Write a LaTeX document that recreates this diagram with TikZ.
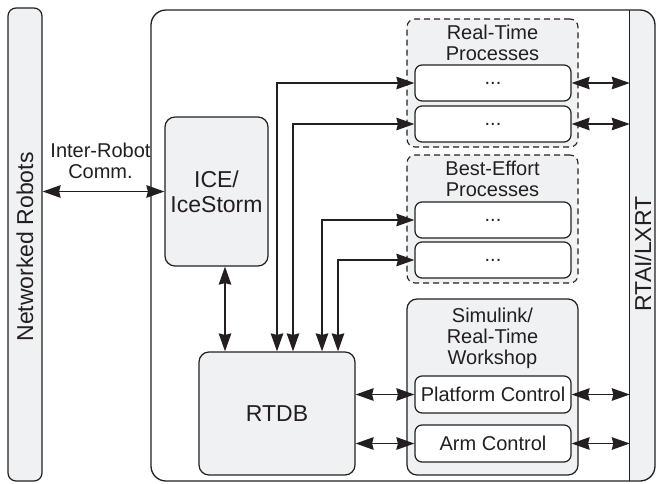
\documentclass[tikz,border=0pt]{standalone}
\usepackage{fontspec}
\setmainfont{Liberation Sans}
\usetikzlibrary{arrows.meta,calc}
\definecolor{boxfill}{RGB}{240,241,243}
\definecolor{ink}{RGB}{35,31,32}
\tikzset{
  headtip/.style={>={Stealth[length=18pt,width=12.5pt,inset=1.5pt]}},
  link/.style={draw=ink, line width=1.6pt, headtip, <->},
}
\begin{document}
\begin{tikzpicture}[x=1pt,y=-1pt,
  every node/.style={font=\fontsize{20}{21}\selectfont, text=ink},
  bigtext/.style={font=\fontsize{23}{25}\selectfont},
  panel/.style={draw=ink, line width=1.2pt, fill=boxfill, rounded corners=#1, inner sep=0pt},
  panel/.default=8pt,
  group/.style={draw=ink, line width=1.1pt, dash pattern=on 6pt off 4pt, fill=boxfill,
    rounded corners=8pt, inner sep=0pt, minimum width=171pt},
  task/.style={draw=ink, line width=1.2pt, fill=white, rounded corners=7pt,
    minimum width=156pt, minimum height=36pt, inner sep=0pt},
]
\useasboundingbox (0,0) rectangle (657,483);

% networked robots column
\node[panel=8pt, minimum width=34pt, minimum height=473pt] (net) at (25,244.5) {};
\node[rotate=90, bigtext] (netlabel) at (25,247) {Networked Robots};

% robot system frame with the RTAI/LXRT strip on its right
\begin{scope}
  \clip[rounded corners=15pt] (151,10) rectangle (655,481);
  \fill[white] (151,10) rectangle (630,481);
  \fill[boxfill] (630,10) rectangle (655,481);
\end{scope}
\node[draw=ink, line width=1.3pt, rounded corners=15pt, minimum width=504pt,
      minimum height=471pt, inner sep=0pt] (sys) at (403,245.5) {};
\node[minimum width=25pt, minimum height=471pt, inner sep=0pt] (rtai) at (642.5,245.5) {};
\draw[ink, line width=1.3pt] (rtai.north west) -- (rtai.south west);
\node[rotate=90, bigtext] (rtailabel) at (643,254) {RTAI/LXRT};

% middleware and database
\node[panel=10pt, minimum width=103pt, minimum height=149pt, align=center, bigtext]
  (ice) at (216.5,191.5) {ICE/\\IceStorm};
\node[panel=10pt, minimum width=156pt, minimum height=123pt, bigtext]
  (rtdb) at (277,413.5) {RTDB};

% real-time processes
\node[group, minimum height=128pt] (rtgrp) at (492.5,83) {};
\node[anchor=north, align=center, inner sep=0pt] (rtlabel)
  at ([yshift=-6pt]rtgrp.north) {Real-Time\\Processes};
\node[task] (rt1) at (493,83) {...};
\node[task] (rt2) at (493,124) {...};

% best-effort processes
\node[group, minimum height=128pt] (begrp) at (492.5,219) {};
\node[anchor=north, align=center, inner sep=0pt] (belabel)
  at ([yshift=-6pt]begrp.north) {Best-Effort\\Processes};
\node[task] (be1) at (493,220) {...};
\node[task] (be2) at (493,260) {...};

% simulink generated controllers
\node[panel=10pt, minimum width=171pt, minimum height=176pt] (sim) at (492.5,387) {};
\node[anchor=north, align=center, inner sep=0pt] (simlabel)
  at ([yshift=-9pt]sim.north) {Simulink/\\Real-Time\\Workshop};
\node[task, minimum height=37pt] (pc) at (493,394.5) {Platform Control};
\node[task, minimum height=37pt] (ac) at (493,443.5) {Arm Control};

% inter-robot communication
\draw[link] (net.east |- ice.west) -- (ice.west);
\node[align=center, inner sep=0pt] (comm) at (100.5,161) {Inter-Robot\\Comm.};

% database links
\draw[link] ([xshift=8.5pt]ice.south) -- ([xshift=8.5pt]ice.south |- rtdb.north);
\draw[link] (rtdb.north) |- (rt1.west);
\draw[link] ([xshift=16pt]rtdb.north) |- (rt2.west);
\draw[link] ([xshift=45pt]rtdb.north) |- (be1.west);
\draw[link] ([xshift=61pt]rtdb.north) |- (be2.west);
\draw[link] (rtdb.east |- pc.west) -- (pc.west);
\draw[link] (rtdb.east |- ac.west) -- (ac.west);

% links to the real-time kernel
\draw[link] (rt1.east) -- (rt1.east -| rtai.west);
\draw[link] (rt2.east) -- (rt2.east -| rtai.west);
\draw[link] (pc.east) -- (pc.east -| rtai.west);
\draw[link] (ac.east) -- (ac.east -| rtai.west);
\end{tikzpicture}
\end{document}
